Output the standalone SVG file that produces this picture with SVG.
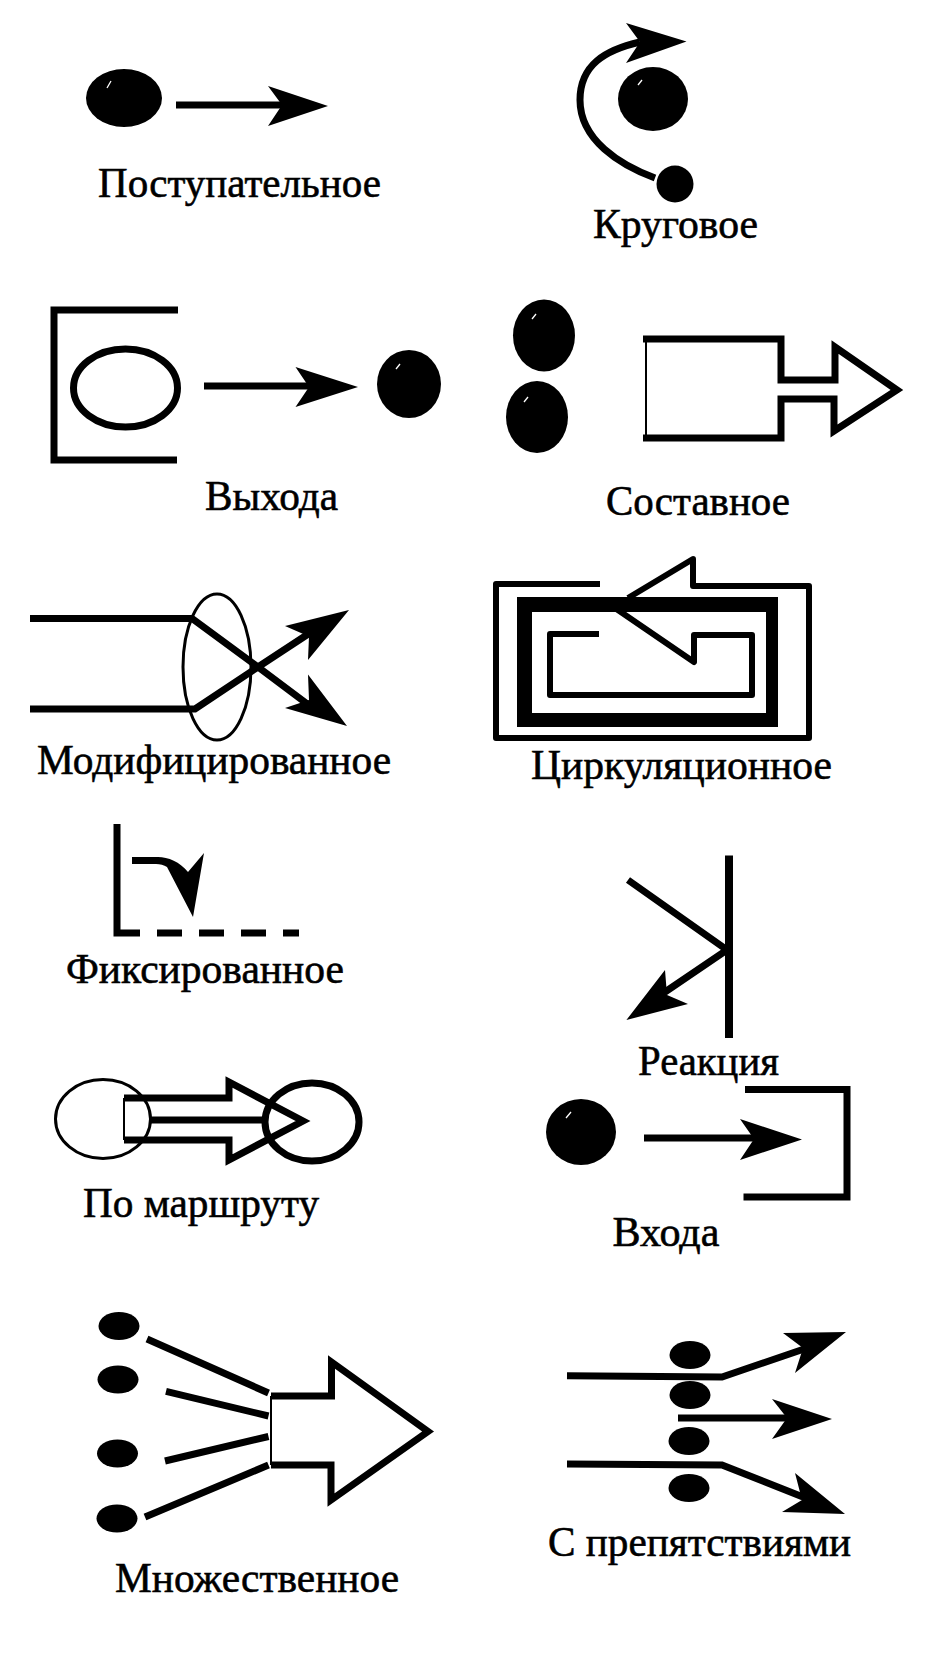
<svg xmlns="http://www.w3.org/2000/svg" width="943" height="1658" viewBox="0 0 943 1658">
<style>
.s{fill:none;stroke:#000;stroke-width:7;stroke-linejoin:miter}
.m{fill:none;stroke:#000;stroke-width:6;stroke-linejoin:round}
.k{fill:none;stroke:#000;stroke-width:8}
.t{fill:none;stroke:#000;stroke-width:2}
.e{fill:none;stroke:#000;stroke-width:3}
.b{fill:#000}
.w{fill:none;stroke:#fff;stroke-width:1.300}
.l{font-family:"Liberation Serif","Times New Roman",serif;font-size:43px;fill:#000;stroke:#000;stroke-width:.6}
</style>
<rect width="943" height="1658" fill="#fff"/>
<g id="connectors">
<path class="s" d="M176 105H290"/><path class="b" d="M328 106L268 86L282 105L268 126Z"/>
<path class="s" d="M655 178C620 165 580 140 580 100C580 65 605 50 640 42"/><path class="b" d="M686.500 41.500L626 23L640 42L626 63Z"/>
<path class="s" d="M204 386H320"/><path class="b" d="M358 387L295.500 367L309 387L295.500 407Z"/>
<path class="s" d="M30 618.500H192L258 667L322 715"/><path class="b" d="M347 726L308 674.500L309 700L285 708Z"/>
<path class="s" d="M30 709H195L258 667L322 625"/><path class="b" d="M349 610L285 626L309 636.500L308 660Z"/>
<path class="b" d="M132 857H158C168 857 180 862 188 872L204 853L193 917L167 867C164 865 160 864 156 864H132Z"/>
<path class="s" d="M628 880L727 950L665 992"/><path class="b" d="M626.400 1020L665 970L667 995L688 1004Z"/>
<path class="s" d="M644 1138H770"/><path class="b" d="M802 1139.500L740 1119L754 1139L740 1160Z"/>
<path class="s" d="M147 1339L268.500 1393M166 1391.400L268.500 1416M165 1461L268.500 1436.500M145 1517L268.500 1465"/>
<path class="s" d="M567 1375.700L722 1377L807 1348"/><path class="b" d="M846 1332L783 1333L803 1348L795 1373Z"/>
<path class="s" d="M678 1418H800"/><path class="b" d="M832 1419L772 1399L787 1418L772 1439Z"/>
<path class="s" d="M567 1464L722 1465L803 1497"/><path class="b" d="M845 1514L795 1473L802 1500L782 1512Z"/>
</g>
<g id="postupatelnoe">
<ellipse class="b" cx="124" cy="98" rx="38" ry="29"/><path class="w" d="M107 88L111 81"/>
<text class="l" x="98" y="197" textLength="283" lengthAdjust="spacingAndGlyphs">Поступательное</text>
</g>
<g id="krugovoe">
<ellipse class="b" cx="653" cy="99" rx="35" ry="32"/><path class="w" d="M638 85L642 80"/>
<ellipse class="b" cx="675" cy="184" rx="18.500" ry="18.500"/>
<text class="l" x="593" y="238" textLength="165" lengthAdjust="spacingAndGlyphs">Круговое</text>
</g>
<g id="vyhoda">
<path class="s" d="M178 310H54V460H177"/>
<ellipse class="s" cx="125.500" cy="388" rx="52" ry="39"/>
<ellipse class="b" cx="409" cy="384" rx="32" ry="34"/><path class="w" d="M396 369L400 364"/>
<text class="l" x="205" y="510" textLength="133" lengthAdjust="spacingAndGlyphs">Выхода</text>
</g>
<g id="sostavnoe">
<ellipse class="b" cx="544" cy="335.500" rx="31" ry="36"/><path class="w" d="M532 319L536 314"/>
<ellipse class="b" cx="537" cy="417" rx="31" ry="36"/><path class="w" d="M524 402L528 397"/>
<path class="s" d="M643 339H781V380H835V347L897 390L834 431V399H781V438H643"/>
<path class="t" d="M646 339V438"/>
<text class="l" x="606" y="515" textLength="184" lengthAdjust="spacingAndGlyphs">Составное</text>
</g>
<g id="modificirovannoe">
<ellipse class="e" cx="217" cy="667" rx="34" ry="73"/>
<text class="l" x="37" y="774" textLength="354" lengthAdjust="spacingAndGlyphs">Модифицированное</text>
</g>
<g id="cirkulyacionnoe">
<path d="M517 597H778V727H517ZM532 612V713H766V612Z" fill="#000" fill-rule="evenodd"/>
<path class="m" d="M600 584H496V738H809V586H693V559L628 598M615 608L694 662V635H752V695H550V634H599"/>
<text class="l" x="531" y="779" textLength="301" lengthAdjust="spacingAndGlyphs">Циркуляционное</text>
</g>
<g id="fiksirovannoe">
<path class="s" d="M117 824V933H140"/>
<path class="s" stroke-dasharray="25 17" d="M157 933H299"/>
<text class="l" x="66" y="983" textLength="278" lengthAdjust="spacingAndGlyphs">Фиксированное</text>
</g>
<g id="reakciya">
<path class="k" d="M729 855.500V1038"/>
<text class="l" x="638" y="1075" textLength="141" lengthAdjust="spacingAndGlyphs">Реакция</text>
</g>
<g id="po-marshrutu">
<ellipse class="e" cx="103" cy="1119" rx="47.500" ry="39.500"/>
<path class="s" d="M124 1098H229V1082L303 1121L229 1160V1140H124"/>
<path class="t" d="M124 1098V1140"/>
<path class="s" d="M150 1120H265"/>
<ellipse class="s" cx="312" cy="1122" rx="47" ry="39"/>
<text class="l" x="83" y="1217" textLength="236" lengthAdjust="spacingAndGlyphs">По маршруту</text>
</g>
<g id="vhoda">
<ellipse class="b" cx="581" cy="1132" rx="35" ry="33"/><path class="w" d="M566 1118L571 1112"/>
<path class="s" d="M745 1089.500H847V1197H743.500"/>
<text class="l" x="612.500" y="1246" textLength="107" lengthAdjust="spacingAndGlyphs">Входа</text>
</g>
<g id="mnozhestvennoe">
<ellipse class="b" cx="119" cy="1326" rx="20.500" ry="14"/>
<ellipse class="b" cx="118" cy="1379.500" rx="20.500" ry="14"/>
<ellipse class="b" cx="117.500" cy="1453.500" rx="20.500" ry="14"/>
<ellipse class="b" cx="117" cy="1518.500" rx="20.500" ry="14"/>
<path class="s" d="M271 1396H331.500V1362L428 1431.500L331 1500V1465H271"/>
<path class="t" d="M271 1396V1465"/>
<text class="l" x="115" y="1592" textLength="284" lengthAdjust="spacingAndGlyphs">Множественное</text>
</g>
<g id="s-prepyatstviyami">
<ellipse class="b" cx="690" cy="1355" rx="20.500" ry="14"/>
<ellipse class="b" cx="690" cy="1395" rx="20.500" ry="14"/>
<ellipse class="b" cx="689" cy="1441" rx="20.500" ry="14"/>
<ellipse class="b" cx="689" cy="1488" rx="20.500" ry="14"/>
<text class="l" x="548" y="1556" textLength="303" lengthAdjust="spacingAndGlyphs">С препятствиями</text>
</g>
</svg>
